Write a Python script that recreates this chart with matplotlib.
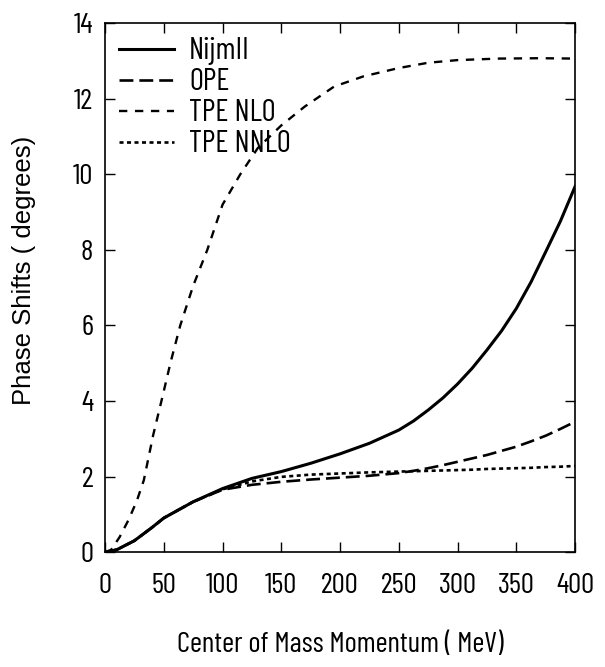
import numpy as np
import matplotlib
matplotlib.use("Agg")
import matplotlib.pyplot as plt

# momentum grid (MeV) and phase shifts (degrees)
k_main = [0, 10, 25, 40, 50, 75, 100, 125, 150, 175, 200, 225, 250, 262.5,
          275, 287.5, 300, 312.5, 325, 337.5, 350, 362.5, 375, 387.5, 400]
nijm = [0, 0.06, 0.3, 0.65, 0.9, 1.33, 1.68, 1.95, 2.13, 2.35, 2.6, 2.88,
        3.23, 3.47, 3.76, 4.08, 4.45, 4.87, 5.35, 5.86, 6.45, 7.15, 7.95,
        8.76, 9.68]
ope = [0, 0.06, 0.3, 0.65, 0.9, 1.33, 1.65, 1.78, 1.86, 1.92, 1.97, 2.02,
       2.09, 2.15, 2.22, 2.3, 2.39, 2.48, 2.57, 2.68, 2.79, 2.93, 3.08,
       3.26, 3.45]
tpe_nnlo = [0, 0.06, 0.3, 0.65, 0.9, 1.33, 1.66, 1.87, 1.99, 2.05, 2.08,
            2.11, 2.13, 2.14, 2.15, 2.16, 2.17, 2.18, 2.2, 2.21, 2.22, 2.23,
            2.25, 2.26, 2.28]

k_nlo = [0, 5, 12.5, 20, 27, 33, 41, 48, 56, 64, 75, 87, 100, 115, 130, 150,
         170, 195, 220, 250, 275, 300, 335, 370, 400]
tpe_nlo = [0, 0.05, 0.4, 0.85, 1.35, 1.9, 3.1, 4.0, 5.05, 6.0, 7.05, 8.0,
           9.2, 10.0, 10.7, 11.3, 11.8, 12.33, 12.6, 12.82, 12.96, 13.03,
           13.07, 13.08, 13.07]

narrow = ['Barlow Condensed', 'Archivo Narrow', 'DejaVu Sans']
plt.rcParams['lines.scale_dashes'] = False

fig = plt.figure(figsize=(6.05, 6.67), dpi=100)
ax = fig.add_axes([0.1736, 0.1724, 0.7769, 0.7924])

ax.plot(k_main, nijm, color='black', lw=2.2, label='NijmII')
ax.plot(k_main, ope, color='black', lw=1.9, dashes=(10, 4.3), label='OPE')
ax.plot(k_nlo, tpe_nlo, color='black', lw=1.7, dashes=(6, 5.5), label='TPE NLO')
ax.plot(k_main, tpe_nnlo, color='black', lw=1.9, dashes=(2.9, 2.5), label='TPE NNLO')

ax.set_xlim(0, 400)
ax.set_ylim(0, 14)
ax.set_xticks(np.arange(0, 401, 50))
ax.set_yticks(np.arange(0, 15, 2))
ax.tick_params(direction='in', top=True, right=True, length=7, width=1)
ax.tick_params(axis='x', pad=15)
ax.tick_params(axis='y', pad=8.5)
for lab in ax.get_xticklabels() + ax.get_yticklabels():
    lab.set_family(narrow)
    lab.set_fontsize(21)
for sp in ax.spines.values():
    sp.set_linewidth(1.2)

ax.set_xlabel('Center of Mass Momentum ( MeV)', family=narrow, fontsize=21, labelpad=24)
fig.text(24 / 605, 1 - 270 / 667, 'Phase Shifts ( degrees)', rotation=90,
         ha='center', va='center', family=['Liberation Sans', 'DejaVu Sans'], fontsize=18.5)

leg = ax.legend(loc='upper left', frameon=False, handlelength=1.8,
                handletextpad=0.5, labelspacing=0.1, borderaxespad=0.1,
                borderpad=0.35, prop={'family': narrow, 'size': 22})

fig.savefig('out.png', dpi=100)
